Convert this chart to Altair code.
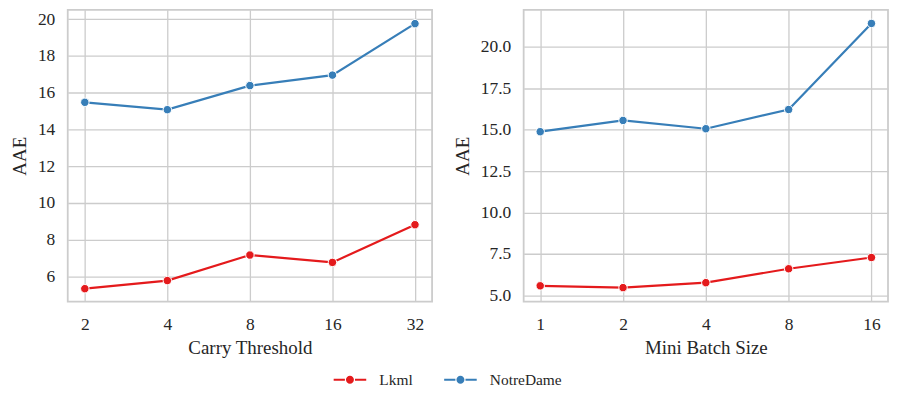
import altair as alt
import pandas as pd

series = ["Lkml", "NotreDame"]
colors = ["#e41a1c", "#377eb8"]

carry_thresholds = ["2", "4", "8", "16", "32"]
carry_lkml = [5.33, 5.77, 7.16, 6.76, 8.81]
carry_notredame = [15.47, 15.07, 16.38, 16.95, 19.75]

batch_sizes = ["1", "2", "4", "8", "16"]
batch_lkml = [5.57, 5.46, 5.76, 6.60, 7.28]
batch_notredame = [14.88, 15.56, 15.06, 16.22, 21.42]

left_y_ticks = [6, 8, 10, 12, 14, 16, 18, 20]
right_y_ticks = [5.0, 7.5, 10.0, 12.5, 15.0, 17.5, 20.0]

FONT = "Liberation Serif"
TEXT = "#262626"


def make_df(xs, lk, nd):
    rows = []
    for s, vals in zip(series, [lk, nd]):
        for x, v in zip(xs, vals):
            rows.append({"x": x, "series": s, "value": v})
    return pd.DataFrame(rows)


legend_path = (
    "M-1,-0.065 L-0.31,-0.065 L-0.31,0.065 L-1,0.065 Z "
    "M0.31,-0.065 L1,-0.065 L1,0.065 L0.31,0.065 Z "
    "M0.245,0 A0.245,0.245 0 1,1 -0.245,0 A0.245,0.245 0 1,1 0.245,0 Z"
)

legend = alt.Legend(
    title=None,
    orient="none",
    direction="horizontal",
    legendX=267,
    legendY=355,
    symbolType=legend_path,
    symbolSize=1070,
    symbolStrokeWidth=0,
    symbolOpacity=1,
    labelFont=FONT,
    labelFontSize=15.5,
    labelColor=TEXT,
    labelOffset=13,
    columnPadding=31,
)

color_scale = alt.Scale(domain=series, range=colors)


def panel(df, xs, xtitle, ydomain, yticks, yfmt, xpad):
    base = alt.Chart(df)
    x = alt.X(
        "x:N",
        sort=xs,
        title=xtitle,
        scale=alt.Scale(type="point", padding=xpad),
        axis=alt.Axis(labelAngle=0, labelPadding=14, titlePadding=6),
    )
    y = alt.Y(
        "value:Q",
        title="AAE",
        scale=alt.Scale(domain=ydomain, nice=False, zero=False),
        axis=alt.Axis(values=yticks, format=yfmt, labelPadding=13, titlePadding=8),
    )
    color = alt.Color("series:N", scale=color_scale, legend=legend)
    line = base.mark_line(strokeWidth=2.2).encode(x=x, y=y, color=color)
    pts = base.mark_circle(size=72, opacity=1, stroke="white", strokeWidth=1).encode(
        x=x, y=y, color=color
    )
    return alt.layer(line, pts).properties(width=366, height=293)


left = panel(
    make_df(carry_thresholds, carry_lkml, carry_notredame),
    carry_thresholds,
    "Carry Threshold",
    [4.63, 20.5],
    left_y_ticks,
    "d",
    0.207,
)
right = panel(
    make_df(batch_sizes, batch_lkml, batch_notredame),
    batch_sizes,
    "Mini Batch Size",
    [4.62, 22.24],
    right_y_ticks,
    ".1f",
    0.2,
)

chart = (
    alt.hconcat(left, right, spacing=19)
    .properties(padding={"left": 1, "top": 0, "right": 0, "bottom": 5})
    .configure_view(stroke="#cccccc", strokeWidth=1.8)
    .configure_axis(
        grid=True,
        gridColor="#cccccc",
        gridWidth=1.3,
        domain=False,
        ticks=False,
        labelFont=FONT,
        labelFontSize=17.5,
        labelColor=TEXT,
        titleFont=FONT,
        titleFontSize=19,
        titleFontWeight="normal",
        titleColor=TEXT,
    )
)

chart.save("out.html", embed_options={"renderer": "svg", "actions": False})
